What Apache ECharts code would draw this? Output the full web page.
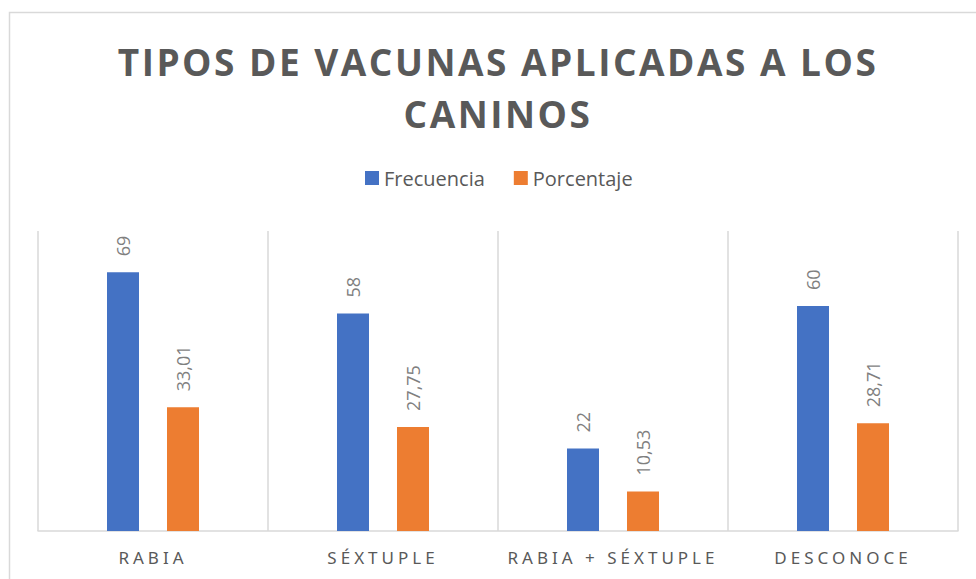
<!DOCTYPE html>
<html>
<head>
<meta charset="utf-8">
<title>Tipos de vacunas aplicadas a los caninos</title>
<script src="https://cdn.jsdelivr.net/npm/echarts@6/dist/echarts.min.js"></script>
<style>
	html, body {
		margin: 0;
		padding: 0;
		background: #fff;
	}
	#chart {
		width: 976px;
		height: 579px;
	}
	/* espaciado de letras como en el original (solo renderer svg) */
	#chart text[style*="bold"] {
		letter-spacing: 2.5px;
	}
	#chart text[style*="Noto Sans"] {
		letter-spacing: 4px;
	}
</style>
</head>
<body>
<div id="chart"></div>
<script>
	let categorias = ['RABIA', 'SÉXTUPLE', 'RABIA + SÉXTUPLE', 'DESCONOCE'];
	let frecuencia = [69, 58, 22, 60];
	let porcentaje = [33.01, 27.75, 10.53, 28.71];

	function etiqueta(p) {
		// coma decimal
		return String(p.value).replace('.', ',');
	}

	let labelStyle = {
		show: true,
		position: 'top',
		rotate: 90,
		align: 'left',
		verticalAlign: 'middle',
		distance: 16,
		color: '#7f7f7f',
		fontFamily: 'Open Sans',
		fontSize: 18,
		formatter: etiqueta
	};

	let option = {
		animation: false,
		color: ['#4472C4', '#ED7D31'],
		title: {
			text: 'TIPOS DE VACUNAS APLICADAS A LOS\nCANINOS',
			left: 498,
			top: 35,
			padding: 0,
			textAlign: 'center',
			textStyle: {
				color: '#595959',
				fontFamily: 'Open Sans',
				fontWeight: 'bold',
				fontSize: 37,
				lineHeight: 52
			}
		},
		legend: {
			left: 365,
			top: 168,
			padding: 0,
			icon: 'rect',
			itemWidth: 14,
			itemHeight: 14,
			itemGap: 29,
			textStyle: {
				color: '#595959',
				fontFamily: 'Open Sans',
				fontSize: 20
			}
		},
		graphic: [{
			// borde del área del gráfico
			type: 'rect',
			silent: true,
			shape: { x: 9.5, y: 12.5, width: 1000, height: 600 },
			style: { fill: 'none', stroke: '#d9d9d9', lineWidth: 1.5 }
		}],
		grid: {
			left: 38,
			right: 18,
			top: 231,
			bottom: 48
		},
		xAxis: {
			type: 'category',
			data: categorias,
			axisTick: { show: false },
			axisLine: {
				lineStyle: { color: '#d9d9d9', width: 1.5 }
			},
			splitLine: {
				show: true,
				interval: 0,
				lineStyle: { color: '#d9d9d9', width: 1.5 }
			},
			axisLabel: {
				interval: 0,
				margin: 18,
				color: '#595959',
				fontFamily: 'Noto Sans',
				fontSize: 17
			}
		},
		yAxis: {
			type: 'value',
			min: 0,
			max: 80,
			show: false,
			splitLine: { show: false }
		},
		series: [{
			name: 'Frecuencia',
			type: 'bar',
			barWidth: 32,
			barGap: '87.5%',
			data: frecuencia,
			label: labelStyle
		}, {
			name: 'Porcentaje',
			type: 'bar',
			barWidth: 32,
			data: porcentaje,
			label: labelStyle
		}]
	};

	let chart = echarts.init(document.getElementById('chart'), null, { renderer: 'svg' });
	chart.setOption(option);
</script>
</body>
</html>
